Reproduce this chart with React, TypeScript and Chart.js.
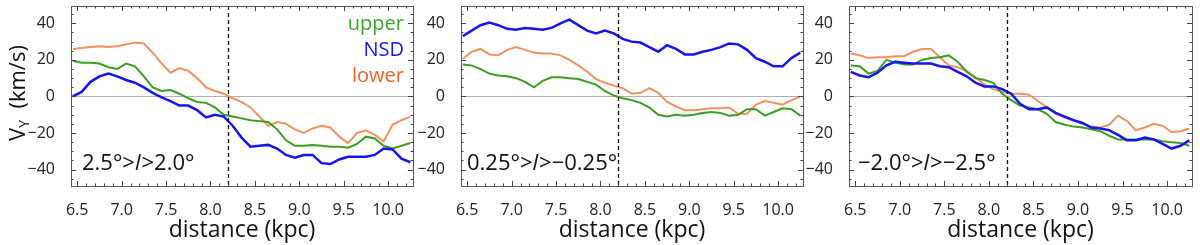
import React, { useEffect, useRef } from "react";
import { Chart, registerables } from "chart.js";

Chart.register(...registerables);

const FONT = "'Open Sans', 'Noto Sans', sans-serif";

// shared distance grid (kpc)
const distance = [
  6.45, 6.55, 6.65, 6.75, 6.85, 6.95, 7.05, 7.15, 7.25, 7.35,
  7.45, 7.55, 7.65, 7.75, 7.85, 7.95, 8.05, 8.15, 8.25, 8.35,
  8.45, 8.55, 8.65, 8.75, 8.85, 8.95, 9.05, 9.15, 9.25, 9.35,
  9.45, 9.55, 9.65, 9.75, 9.85, 9.95, 10.05, 10.15, 10.25,
];

// Panel 1: 2.5° > l > 2.0°
const upper1 = [
  19.5, 18.5, 18.5, 18, 16, 15, 18, 16.5, 11, 5,
  3, 3.5, 1.5, -1, -3, -3.5, -6, -10, -11, -12,
  -13, -13.5, -14, -18, -24, -27, -27, -26.5, -27, -27.5,
  -27.5, -28, -26, -22, -23, -27, -28.5, -27, -25.5,
];
const nsd1 = [
  0, 2.5, 8, 11, 12.5, 11, 9, 7.5, 5, 2,
  -0.5, -2.5, -5, -5, -7.5, -11.5, -10, -11, -16, -22.5,
  -27.5, -27, -26.5, -28.5, -32, -33.5, -32, -32, -36.5, -37,
  -34.5, -33, -33, -33, -32, -28.5, -29, -34, -36,
];
const lower1 = [
  26, 26.5, 27, 27.5, 27, 27.5, 28.5, 29.5, 29, 24,
  18, 13, 15.5, 14, 10, 5, 3, 1.5, -1, -3,
  -6, -11, -16, -14, -15, -18, -20, -17.5, -16, -17,
  -22, -25.5, -20, -18.5, -21, -24.5, -15.5, -13, -11,
];

// Panel 2: 0.25° > l > -0.25°
const upper2 = [
  17.5, 17, 15, 12.5, 11.5, 11, 10, 8, 5, 8.5,
  10.5, 10.5, 10, 9.5, 8, 6.5, 3, 0.5, -1, -2,
  -3.5, -6, -10, -11, -10, -10.5, -10, -9, -8.5, -9,
  -10.5, -10, -7, -7, -10.5, -8.5, -6.5, -7, -10.5,
];
const nsd2 = [
  33, 36, 39, 40.5, 39, 37, 36.5, 37.5, 37, 36.5,
  37.5, 40, 42, 39, 36, 34.5, 36, 34.5, 31.5, 30,
  29.5, 27, 24.5, 28, 26, 23, 23, 24.5, 25.5, 27,
  29, 28.5, 25.5, 21, 19, 16.5, 16.5, 21, 24,
];
const lower2 = [
  20.5, 24.5, 26, 23, 22.5, 25.5, 27, 25.5, 24, 23.5,
  23.5, 22.5, 20, 17, 13.5, 9.5, 7.5, 6, 4.5, 1.5,
  2, 4.5, 2, -3, -5.5, -7.5, -7.5, -7, -6.5, -6.5,
  -6, -9.5, -9.5, -4.5, -2.5, -3.5, -4.5, -2, 0,
];

// Panel 3: -2.0° > l > -2.5°
const upper3 = [
  17, 16.5, 12.5, 14, 20, 18.5, 17.5, 17.5, 20, 21,
  21.5, 22.5, 19, 13.5, 10, 9, 7.5, 1.5, -2, -5,
  -6, -7, -9.5, -14, -15.5, -16.5, -17, -18, -19, -21.5,
  -23.5, -23.5, -23.5, -23.5, -23.5, -24.5, -25, -25.5, -27,
];
const nsd3 = [
  13.5, 11.5, 10.5, 13, 17, 19, 18.5, 18, 18, 18,
  16.5, 16, 13.5, 11, 7.5, 5.5, 5.5, 4, 1.5, -4,
  -7, -7, -6, -9, -11, -13, -14.5, -17, -17.5, -18.5,
  -21, -24, -24, -22.5, -23.5, -26, -28.5, -27, -24,
];
const lower3 = [
  23.5, 22.5, 21, 21.5, 21.5, 22, 22, 24.5, 26, 26,
  21.5, 17, 16, 14, 10.5, 6.5, 4, 2.5, 1.5, 1.5,
  1, -2.5, -6, -9.5, -11.5, -13, -15, -16.5, -17, -15.5,
  -10.5, -13.5, -18.5, -17, -15, -16, -19.5, -19, -17.5,
];

const xTicks = [6.5, 7.0, 7.5, 8.0, 8.5, 9.0, 9.5, 10.0];
const yTicks = [-40, -20, 0, 20, 40];
const xRange = [6.43, 10.28];
const yRange = [-49, 49.5];
const sunDistance = 8.2;

const seriesNames = ["upper", "NSD", "lower"];
const lineColors = ["#3a9e22", "#1515f0", "#f5915f"];
const legendColors = ["#3aa62a", "#1515f0", "#e8662a"];

const panelLabels = [
  ["2.5°>", "l", ">2.0°"],
  ["0.25°>", "l", ">\u22120.25°"],
  ["\u22122.0°>", "l", ">\u22122.5°"],
];

const panelSeries = [
  [upper1, nsd1, lower1],
  [upper2, nsd2, lower2],
  [upper3, nsd3, lower3],
];

const panelLayout = [
  { left: 0, width: 415, yWidth: 71, padRight: 2, labelDx: 11, yTitle: true, legend: true },
  { left: 415, width: 390, yWidth: 46, padRight: 2, labelDx: 6, yTitle: false, legend: false },
  { left: 805, width: 395, yWidth: 44, padRight: 8, labelDx: 9, yTitle: false, legend: false },
];

function Panel({ idx }: { idx: number }) {
  const ref = useRef<HTMLCanvasElement | null>(null);
  const lay = panelLayout[idx];

  useEffect(() => {
    if (!ref.current) return;
    const series = panelSeries[idx];
    const order = [1, 0, 2];
    const datasets = order.map((k) => ({
      label: seriesNames[k],
      data: distance.map((d, i) => ({ x: d, y: series[k][i] })),
      borderColor: lineColors[k],
      backgroundColor: lineColors[k],
      borderWidth: k === 1 ? 2.5 : 2,
      pointRadius: 0,
      tension: 0,
      fill: false,
    }));

    const decor = {
      id: "decor" + idx,
      beforeDatasetsDraw(chart: any) {
        const { ctx, chartArea: a, scales } = chart;
        const y0 = scales.y.getPixelForValue(0);
        ctx.save();
        ctx.strokeStyle = "#b0b0b0";
        ctx.lineWidth = 1;
        ctx.beginPath();
        ctx.moveTo(a.left, Math.round(y0) + 0.5);
        ctx.lineTo(a.right, Math.round(y0) + 0.5);
        ctx.stroke();
        ctx.restore();
      },
      afterDatasetsDraw(chart: any) {
        const { ctx, chartArea: a, scales } = chart;
        const xs = scales.x;
        const ys = scales.y;
        ctx.save();
        // dashed marker
        const xd = Math.round(xs.getPixelForValue(sunDistance)) + 0.5;
        ctx.strokeStyle = "#111";
        ctx.lineWidth = 1.3;
        ctx.setLineDash([4, 3]);
        ctx.beginPath();
        ctx.moveTo(xd, a.top);
        ctx.lineTo(xd, a.bottom);
        ctx.stroke();
        ctx.setLineDash([]);

        // frame
        ctx.strokeStyle = "#555";
        ctx.lineWidth = 1;
        ctx.strokeRect(Math.round(a.left) + 0.5, Math.round(a.top) + 0.5,
          Math.round(a.right - a.left), Math.round(a.bottom - a.top));

        // ticks
        ctx.strokeStyle = "#444";
        ctx.beginPath();
        for (let m = 64; m <= 103; m++) {
          const v = m / 10;
          if (v < xRange[0] || v > xRange[1]) continue;
          const px = Math.round(xs.getPixelForValue(v)) + 0.5;
          const len = m % 5 === 0 ? 5 : 2.5;
          ctx.moveTo(px, a.bottom);
          ctx.lineTo(px, a.bottom - len);
          ctx.moveTo(px, a.top);
          ctx.lineTo(px, a.top + len);
        }
        for (let v = -45; v <= 45; v += 5) {
          const py = Math.round(ys.getPixelForValue(v)) + 0.5;
          const len = v % 20 === 0 ? 5 : 2.5;
          ctx.moveTo(a.left, py);
          ctx.lineTo(a.left + len, py);
          ctx.moveTo(a.right, py);
          ctx.lineTo(a.right - len, py);
        }
        ctx.stroke();

        // panel label
        const parts = panelLabels[idx];
        let x = a.left + lay.labelDx;
        const by = 170;
        ctx.fillStyle = "#111";
        ctx.textBaseline = "alphabetic";
        ctx.textAlign = "left";
        parts.forEach((p, i) => {
          ctx.font = (i === 1 ? "italic " : "") + "22px " + FONT;
          ctx.fillText(p, x, by);
          x += ctx.measureText(p).width + (i === 1 ? 1 : 0);
        });

        // legend
        if (lay.legend) {
          ctx.font = "20px " + FONT;
          ctx.textAlign = "right";
          ctx.textBaseline = "middle";
          const ly = [24, 50, 76];
          [0, 1, 2].forEach((k) => {
            ctx.fillStyle = legendColors[k];
            ctx.fillText(seriesNames[k], a.right - 9, ly[k]);
          });
        }

        // y title with subscript
        if (lay.yTitle) {
          ctx.translate(17, 93);
          ctx.rotate(-Math.PI / 2);
          ctx.fillStyle = "#111";
          ctx.textBaseline = "alphabetic";
          ctx.textAlign = "left";
          const bigF = "22px " + FONT;
          const subF = "14px " + FONT;
          ctx.font = bigF;
          const wV = ctx.measureText("V").width;
          ctx.font = subF;
          const wY = ctx.measureText("Y").width;
          ctx.font = bigF;
          const rest = "  (km/s)";
          const wR = ctx.measureText(rest).width;
          const total = wV + wY + wR;
          let tx = -total / 2;
          const base = 8;
          ctx.font = bigF;
          ctx.fillText("V", tx, base);
          tx += wV;
          ctx.font = subF;
          ctx.fillText("Y", tx, base + 4);
          tx += wY;
          ctx.font = bigF;
          ctx.fillText(rest, tx, base);
        }
        ctx.restore();
      },
    };

    const chart = new Chart(ref.current, {
      type: "line",
      data: { datasets },
      options: {
        responsive: false,
        animation: false,
        devicePixelRatio: 1,
        layout: { padding: { left: 0, top: 6, right: lay.padRight, bottom: 0 } },
        plugins: { legend: { display: false }, tooltip: { enabled: false } },
        scales: {
          x: {
            type: "linear",
            min: xRange[0],
            max: xRange[1],
            grid: { display: false },
            border: { display: false },
            afterBuildTicks: (s: any) => {
              s.ticks = xTicks.map((v) => ({ value: v }));
            },
            afterFit: (s: any) => {
              s.height = 59;
              s.paddingLeft = 0;
              s.paddingRight = 0;
            },
            ticks: {
              padding: 7,
              maxRotation: 0,
              autoSkip: false,
              color: "#222",
              font: { family: FONT, size: 16 },
              callback: (v: any) => Number(v).toFixed(1),
            },
            title: {
              display: true,
              text: "distance (kpc)",
              color: "#111",
              font: { family: FONT, size: 23 },
              padding: { top: 0, bottom: 1 },
            },
          },
          y: {
            type: "linear",
            min: yRange[0],
            max: yRange[1],
            grid: { display: false },
            border: { display: false },
            afterBuildTicks: (s: any) => {
              s.ticks = yTicks.map((v) => ({ value: v }));
            },
            afterFit: (s: any) => {
              s.width = lay.yWidth;
              s.paddingTop = 0;
              s.paddingBottom = 0;
            },
            ticks: {
              padding: 8,
              color: "#222",
              font: { family: FONT, size: 16 },
              callback: (v: any) => (Number(v) < 0 ? "\u2212" + Math.abs(Number(v)) : String(v)),
            },
          },
        },
      },
      plugins: [decor],
    } as any);
    return () => chart.destroy();
  }, [idx]);

  return (
    <canvas
      ref={ref}
      width={lay.width}
      height={245}
      style={{ position: "absolute", left: lay.left, top: 0, width: lay.width, height: 245, display: "block" }}
    />
  );
}

export default function App() {
  return (
    <div style={{ position: "absolute", left: 0, top: 0, width: 1200, height: 245, background: "#fff", overflow: "hidden" }}>
      <Panel idx={0} />
      <Panel idx={1} />
      <Panel idx={2} />
    </div>
  );
}
